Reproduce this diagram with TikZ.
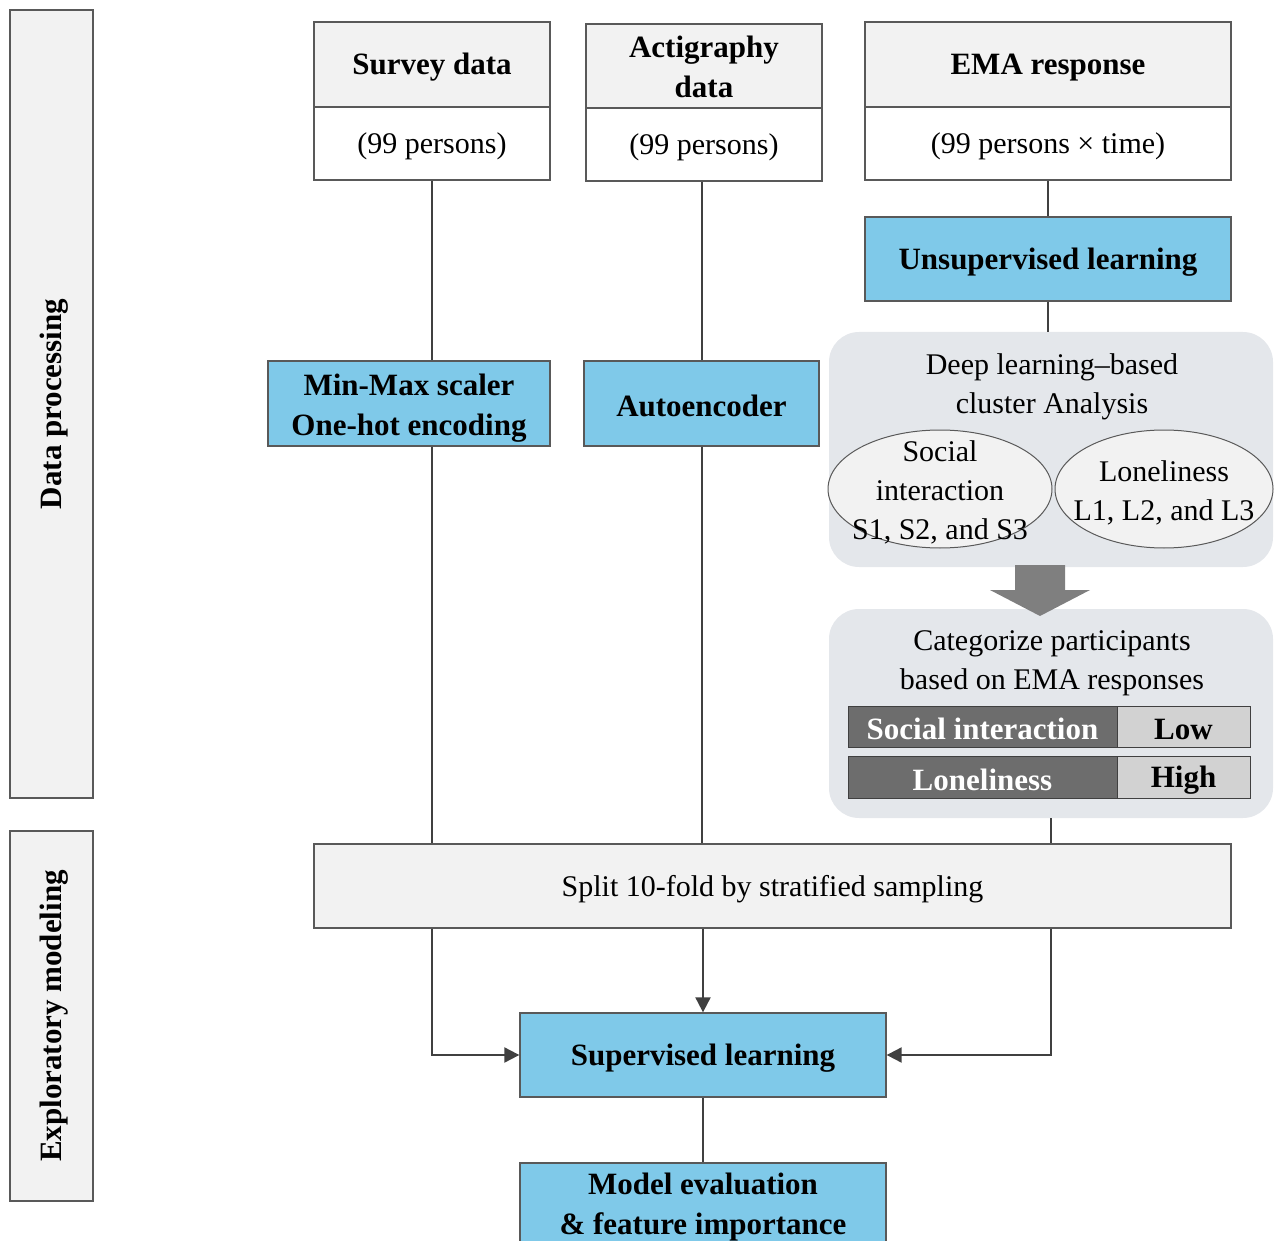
\documentclass[tikz,border=0pt]{standalone}
\usepackage{fontspec}
\setmainfont{Liberation Serif}
\usetikzlibrary{arrows.meta,shapes.geometric}
\definecolor{boxblue}{RGB}{127,201,233}
\definecolor{hdrgray}{RGB}{242,242,242}
\definecolor{panelgray}{RGB}{228,231,235}
\definecolor{bordergray}{RGB}{89,89,89}
\definecolor{linegray}{RGB}{64,64,64}
\definecolor{darkcell}{RGB}{109,109,109}
\definecolor{lightcell}{RGB}{210,210,210}
\definecolor{bigarrow}{RGB}{127,127,127}
\newcommand{\topstrut}{\rule{0pt}{27pt}}
\begin{document}
\begin{tikzpicture}[x=1pt,y=-1pt,
  base/.style={draw=bordergray, line width=1.3pt, inner sep=0pt, align=center,
    font=\fontsize{30}{39}\selectfont, execute at begin node=\topstrut},
  hdr/.style={base, fill=hdrgray, font=\bfseries\fontsize{31}{40}\selectfont},
  cnt/.style={base, fill=white},
  bluebox/.style={base, fill=boxblue, font=\bfseries\fontsize{31}{40}\selectfont},
  panel/.style={fill=panelgray, rounded corners=30pt, inner sep=0pt},
  plain/.style={inner sep=0pt, align=center, font=\fontsize{30}{39}\selectfont},
  boldtext/.style={plain, font=\bfseries\fontsize{31}{40}\selectfont},
  oval/.style={ellipse, draw=bordergray, line width=1pt, fill=hdrgray, inner sep=0pt},
  cell/.style={draw=linegray, line width=1pt, inner sep=0pt, font=\bfseries\fontsize{31}{40}\selectfont, execute at begin node=\topstrut},
  band/.style={base, fill=hdrgray},
  bandtext/.style={rotate=90, inner sep=0pt, font=\bfseries\fontsize{31}{40}\selectfont, execute at begin node=\topstrut},
  conn/.style={draw=linegray, line width=2pt},
  arr/.style={conn, -{Triangle[length=15pt,width=15pt]}}
]
\useasboundingbox (0,0) rectangle (1275,1241);

% side bands
\node[band, minimum width=83, minimum height=788] (dpband) at (51.5,404) {};
\node[bandtext] (dptext) at (dpband.center) {Data processing};
\node[band, minimum width=83, minimum height=370] (emband) at (51.5,1016) {};
\node[bandtext] (emtext) at (emband.center) {Exploratory modeling};

% data sources
\node[hdr, minimum width=236, minimum height=85] (survey) at (432,64.5) {Survey data};
\node[cnt, minimum width=236, minimum height=73] (surveyn) at (432,143.5) {(99 persons)};
\node[hdr, minimum width=236, minimum height=84] (acti) at (704,66) {};
\node[boldtext] (actitext) at (704,67) {Actigraphy\\data};
\node[cnt, minimum width=236, minimum height=73] (actin) at (704,144.5) {(99 persons)};
\node[hdr, minimum width=366, minimum height=85] (ema) at (1048,64.5) {EMA response};
\node[cnt, minimum width=366, minimum height=73] (eman) at (1048,143.5) {(99 persons × time)};

% processing
\node[bluebox, minimum width=366, minimum height=84] (unsup) at (1048,259) {Unsupervised learning};
\node[bluebox, minimum width=282, minimum height=85] (minmax) at (409,403.5) {};
\node[boldtext] (minmaxtext) at (409,408) {Min-Max scaler\\One-hot encoding};
\node[bluebox, minimum width=235, minimum height=85] (auto) at (701.5,403.5) {Autoencoder};

% cluster panel
\node[panel, minimum width=444, minimum height=235] (clpanel) at (1051,449.5) {};
\node[plain] (cltext) at (1052,386.5) {Deep learning–based\\cluster Analysis};
\node[oval, minimum width=224, minimum height=118] (ovl) at (940,489) {};
\node[plain] (ovltext) at (940,492) {Social\\interaction\\S1, S2, and S3};
\node[oval, minimum width=218, minimum height=118] (ovr) at (1164,489) {};
\node[plain] (ovrtext) at (1164,492.5) {Loneliness\\L1, L2, and L3};

% categorize panel
\node[panel, minimum width=444, minimum height=209] (catpanel) at (1051,713.5) {};
\node[plain] (cattext) at (1052,663.5) {Categorize participants\\based on EMA responses};
\node[cell, fill=darkcell, text=white, minimum width=269, minimum height=41] (si) at (982.5,726.5) {Social interaction};
\node[cell, fill=lightcell, minimum width=133, minimum height=41] (low) at (1183.5,726.5) {Low};
\node[cell, fill=darkcell, text=white, minimum width=269, minimum height=42] (lon) at (982.5,777) {Loneliness};
\node[cell, fill=lightcell, minimum width=133, minimum height=42] (high) at (1183.5,777) {High};

% big arrow between the panels
\fill[bigarrow] (1015,565) -- (1065,565) -- (1065,590) -- (1090,590) -- (1040,616)
  -- (990,590) -- (1015,590) -- cycle;

% modeling
\node[base, fill=hdrgray, minimum width=917, minimum height=84] (split) at (772.5,886) {Split 10-fold by stratified sampling};
\node[bluebox, minimum width=366, minimum height=84] (sup) at (703,1055) {Supervised learning};
\node[bluebox, minimum width=366, minimum height=84] (model) at (703,1205) {};
\node[boldtext] (modeltext) at (703,1207.5) {Model evaluation\\\& feature importance};

% connectors
\draw[conn] (surveyn.south) -- (surveyn.south |- minmax.north);
\draw[conn] (surveyn.south |- minmax.south) -- (surveyn.south |- split.north);
\draw[conn] (auto.north |- actin.south) -- (auto.north);
\draw[conn] (auto.south) -- (auto.south |- split.north);
\draw[conn] (eman.south) -- (unsup.north);
\draw[conn] (unsup.south) -- (unsup.south |- clpanel.north);
\draw[conn] (catpanel.south) -- (catpanel.south |- split.north);
\draw[arr] (surveyn.south |- split.south) |- (sup.west);
\draw[arr] (sup.north |- split.south) -- (sup.north);
\draw[arr] (catpanel.south |- split.south) |- (sup.east);
\draw[conn] (sup.south) -- (model.north);
\end{tikzpicture}
\end{document}
